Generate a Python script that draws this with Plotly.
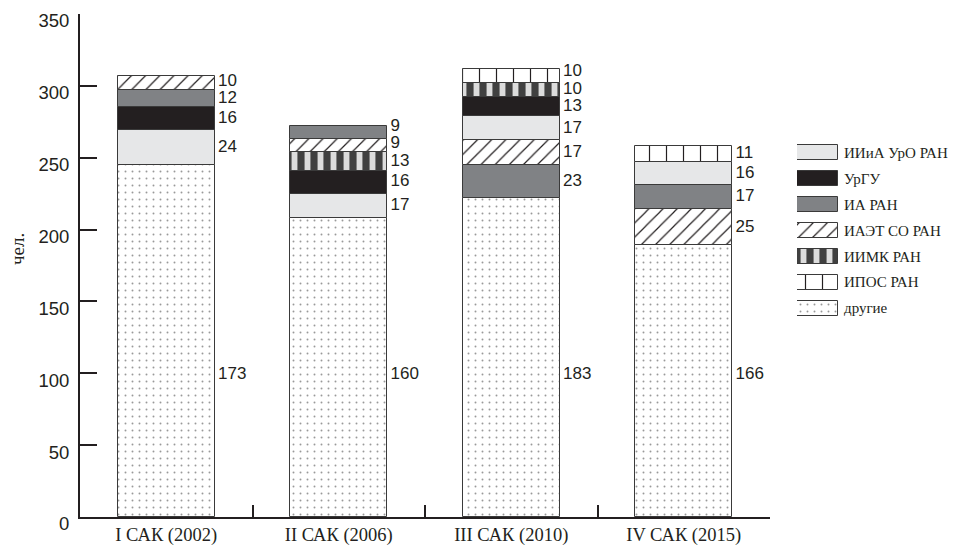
import plotly.graph_objects as go

# ---------------- data ----------------
categories = ["I САК (2002)", "II САК (2006)", "III САК (2010)", "IV САК (2015)"]
series_names = ["ИИиА УрО РАН", "УрГУ", "ИА РАН", "ИАЭТ СО РАН", "ИИМК РАН", "ИПОС РАН", "другие"]

iiia_uro_ran = [24, 17, 17, 16]
urgu = [16, 16, 13, None]
ia_ran = [12, 9, 23, 17]
iaet_so_ran = [10, 9, 17, 25]
iimk_ran = [None, 13, 10, None]
ipos_ran = [None, None, 10, 11]
others_height = [245, 208, 222, 189]   # drawn height of "другие" segment
others_label = [173, 160, 183, 166]    # printed value for "другие"

# stacking order (bottom -> top) per category
stack_order = [
    ["другие", "ИИиА УрО РАН", "УрГУ", "ИА РАН", "ИАЭТ СО РАН"],
    ["другие", "ИИиА УрО РАН", "УрГУ", "ИИМК РАН", "ИАЭТ СО РАН", "ИА РАН"],
    ["другие", "ИА РАН", "ИАЭТ СО РАН", "ИИиА УрО РАН", "УрГУ", "ИИМК РАН", "ИПОС РАН"],
    ["другие", "ИАЭТ СО РАН", "ИА РАН", "ИИиА УрО РАН", "ИПОС РАН"],
]

y_ticks = [0, 50, 100, 150, 200, 250, 300, 350]
y_title = "чел."

# ---------------- styles ----------------
INK = "#231f20"
SERIF = "Liberation Serif, DejaVu Serif, serif"
SANS = "Liberation Sans, Arial, sans-serif"

styles = {
    "ИИиА УрО РАН": dict(color="#e6e7e8"),
    "УрГУ": dict(color=INK),
    "ИА РАН": dict(color="#808285"),
    "ИАЭТ СО РАН": dict(color="white", pattern=dict(shape="/", bgcolor="white", fgcolor=INK,
                                                    size=10, solidity=0.12, fillmode="replace")),
    "ИИМК РАН": dict(color="#555555", pattern=dict(shape="|", bgcolor="#404040", fgcolor="#dcdcdc",
                                                   size=13, solidity=0.45, fillmode="replace")),
    "ИПОС РАН": dict(color="white", pattern=dict(shape="|", bgcolor="white", fgcolor=INK,
                                                 size=17, solidity=0.07, fillmode="replace")),
    "другие": dict(color="white", pattern=dict(shape=".", bgcolor="white", fgcolor="#999999",
                                               size=7, solidity=0.06, fillmode="replace")),
}

values = {
    "ИИиА УрО РАН": iiia_uro_ran,
    "УрГУ": urgu,
    "ИА РАН": ia_ran,
    "ИАЭТ СО РАН": iaet_so_ran,
    "ИИМК РАН": iimk_ran,
    "ИПОС РАН": ipos_ran,
    "другие": others_height,
}

# compute bases from the stacking order
bases = {name: [None] * len(categories) for name in series_names}
for ci, order in enumerate(stack_order):
    acc = 0
    for name in order:
        v = values[name][ci]
        if v is None:
            continue
        bases[name][ci] = acc
        acc += v

BAR_W = 0.56
LABEL_DX = 0.02
OTHERS_LABEL_Y = 99
MIN_LABEL_GAP = 12  # in data units, keeps stacked labels from colliding

fig = go.Figure()

for name in series_names:
    st = styles[name]
    marker = dict(color=st["color"], line=dict(color="#3a3a3a", width=1))
    if "pattern" in st:
        marker["pattern"] = st["pattern"]
    fig.add_trace(go.Bar(
        x=categories, y=values[name], base=bases[name], width=BAR_W,
        marker=marker, name=name, showlegend=False, xaxis="x", yaxis="y",
    ))

# value labels
lx, ly, lt = [], [], []
for ci in range(len(categories)):
    prev = None
    for name in stack_order[ci]:
        v = values[name][ci]
        if v is None:
            continue
        lx.append(ci + BAR_W / 2 + LABEL_DX)
        if name == "другие":
            ly.append(OTHERS_LABEL_Y)
            lt.append(str(others_label[ci]))
        else:
            yc = bases[name][ci] + v / 2
            if prev is not None and yc < prev + MIN_LABEL_GAP:
                yc = prev + MIN_LABEL_GAP
            prev = yc
            ly.append(yc)
            lt.append(str(v))
fig.add_trace(go.Scatter(
    x=lx, y=ly, text=lt, mode="text", textposition="middle right",
    textfont=dict(family=SANS, size=17, color=INK), showlegend=False,
    xaxis="x3", yaxis="y", hoverinfo="skip",
))

# custom legend swatches
for name in series_names:
    st = styles[name]
    marker = dict(color=st["color"], line=dict(color="#3a3a3a", width=1))
    if "pattern" in st:
        marker["pattern"] = st["pattern"]
    fig.add_trace(go.Bar(
        x=[1], y=[name], base=[0], orientation="h", width=0.58,
        marker=marker, showlegend=False, xaxis="x2", yaxis="y2", hoverinfo="skip",
    ))

# page has an 8px body margin: figure is laid out 8px up/left of the target coordinates
PLOT_W = 880
PLOT_H = 503
MAIN_RIGHT = 690 / PLOT_W

fig.add_annotation(
    text=y_title, textangle=-90, xref="paper", yref="paper",
    x=(18 - 80) / PLOT_W, y=(517 - 249) / PLOT_H, xanchor="center", yanchor="middle",
    showarrow=False, font=dict(family=SERIF, size=19, color=INK),
)

fig.update_layout(
    width=952, height=542,
    margin=dict(l=72, r=0, t=6, b=33, autoexpand=False),
    plot_bgcolor="white", paper_bgcolor="white",
    barmode="overlay",
    bargap=0,
    xaxis=dict(
        domain=[0, MAIN_RIGHT], type="category", categoryorder="array", categoryarray=categories,
        range=[-0.5, 3.5], tickson="boundaries", ticks="inside", ticklen=12, tickwidth=2,
        tickcolor=INK, showline=True, linecolor=INK, linewidth=2, showgrid=False, zeroline=False,
        tickfont=dict(family=SERIF, size=18.5, color=INK), anchor="y", automargin=False,
    ),
    xaxis3=dict(overlaying="x", range=[-0.5, 3.5], visible=False, anchor="y",
                domain=[0, MAIN_RIGHT], automargin=False),
    yaxis=dict(
        range=[0, 350], tickvals=y_ticks, ticks="inside", ticklen=17, tickwidth=2, tickcolor=INK,
        showline=True, linecolor=INK, linewidth=2, showgrid=False, zeroline=False,
        tickfont=dict(family=SANS, size=18.5, color=INK), ticklabelstandoff=5,
        ticklabelshift=7, ticklabeloverflow="allow",
        anchor="x", automargin=False,
    ),
    xaxis2=dict(domain=[(797 - 80) / PLOT_W, (838 - 80) / PLOT_W], range=[0, 1], visible=False,
                anchor="y2", automargin=False),
    yaxis2=dict(
        domain=[(517 - 321) / PLOT_H, (517 - 140) / PLOT_H], type="category",
        categoryorder="array", categoryarray=series_names, autorange="reversed",
        side="right", anchor="x2", showline=False, ticks="", showgrid=False, zeroline=False,
        tickfont=dict(family=SERIF, size=15, color=INK), ticklabelstandoff=5,
        automargin=False,
    ),
)

fig.write_html("out.html")
